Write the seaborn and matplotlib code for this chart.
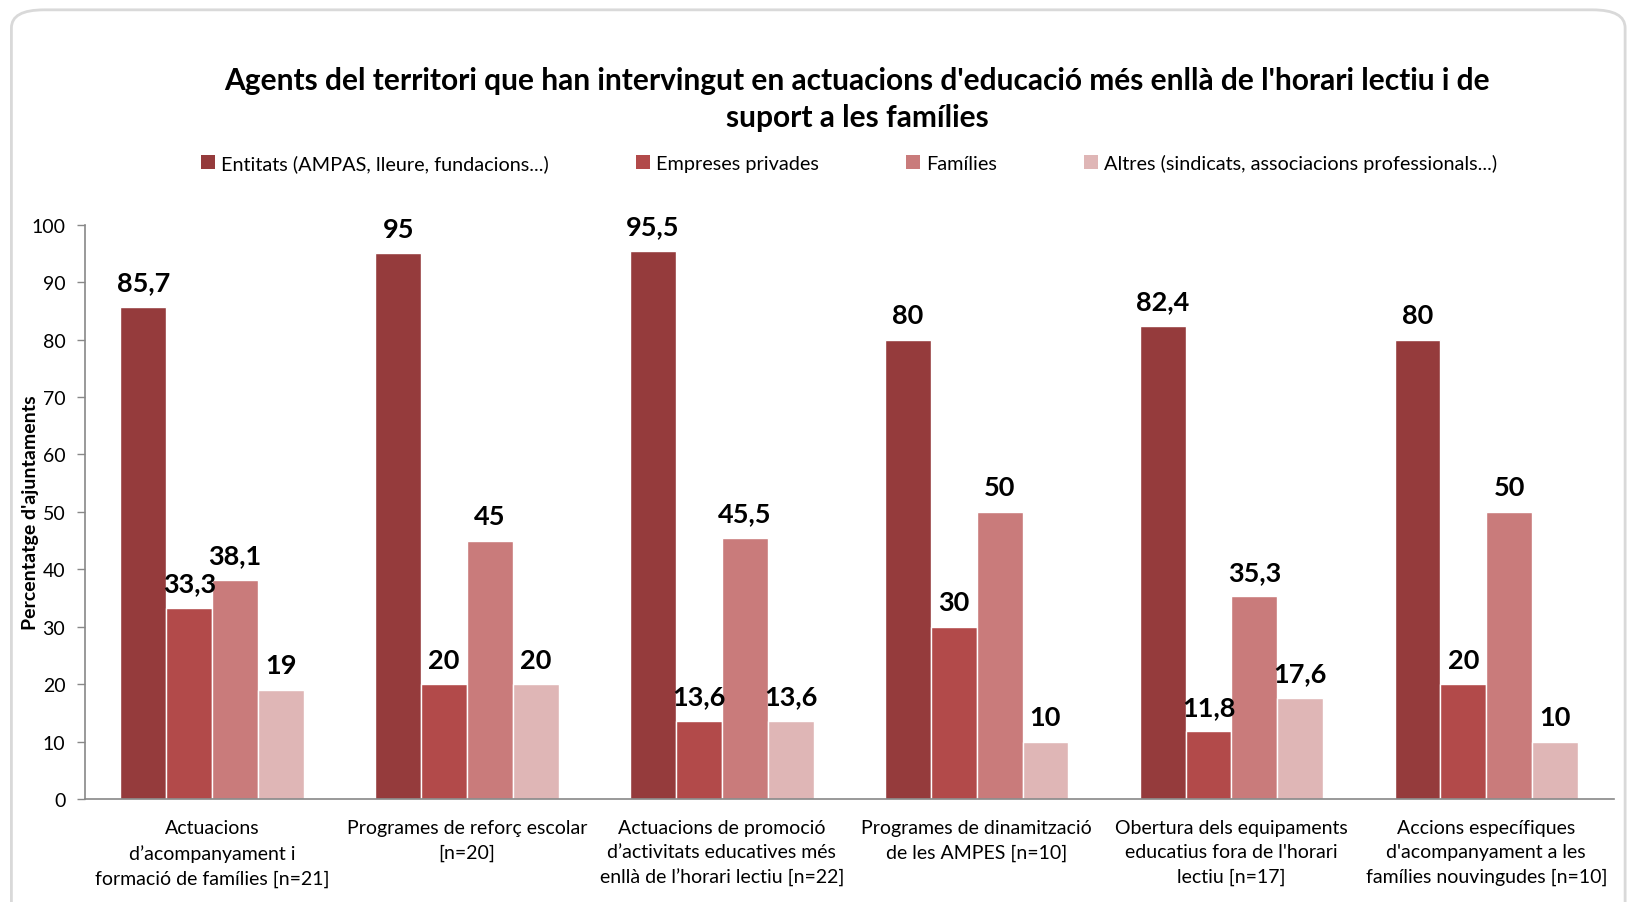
import pandas as pd
import matplotlib.pyplot as plt
import seaborn as sns
from matplotlib.patches import FancyBboxPatch, Patch

# Data
categories = [
    "Actuacions\nd\u2019acompanyament i\nformació de famílies [n=21]",
    "Programes de reforç escolar\n[n=20]",
    "Actuacions de promoció\nd\u2019activitats educatives més\nenllà de l\u2019horari lectiu [n=22]",
    "Programes de dinamització\nde les AMPES [n=10]",
    "Obertura dels equipaments\neducatius fora de l'horari\nlectiu [n=17]",
    "Accions específiques\nd'acompanyament a les\nfamílies nouvingudes [n=10]",
]
series = [
    "Entitats (AMPAS, lleure, fundacions...)",
    "Empreses privades",
    "Famílies",
    "Altres (sindicats, associacions professionals...)",
]
entitats = [85.7, 95, 95.5, 80, 82.4, 80]
empreses = [33.3, 20, 13.6, 30, 11.8, 20]
families = [38.1, 45, 45.5, 50, 35.3, 50]
altres = [19, 20, 13.6, 10, 17.6, 10]
colors = ["#953B3C", "#B24A4A", "#C97B7B", "#DFB6B6"]

rows = []
for name, vals in zip(series, [entitats, empreses, families, altres]):
    for cat, v in zip(categories, vals):
        rows.append({"cat": cat, "serie": name, "value": v})
df = pd.DataFrame(rows)

sns.set_style("white")
plt.rcParams["font.family"] = ["Lato", "DejaVu Sans"]
plt.rcParams["text.color"] = "black"
plt.rcParams["axes.labelcolor"] = "black"
plt.rcParams["xtick.color"] = "black"
plt.rcParams["ytick.color"] = "black"

fig = plt.figure(figsize=(16.3, 9.03), dpi=100)
ax = fig.add_axes([0.052, 0.114, 0.938, 0.636])

sns.barplot(data=df, x="cat", y="value", hue="serie", palette=colors,
            width=0.72, saturation=1, ax=ax, legend=False)

def fmt(v):
    return (f"{v:g}").replace(".", ",")

for cont in ax.containers:
    for bar in cont:
        h = bar.get_height()
        ax.text(bar.get_x() + bar.get_width() / 2, h + 2.2, fmt(h),
                ha="center", va="bottom", fontsize=19.5, fontweight="bold")

ax.set_ylim(0, 100)
ax.set_yticks(range(0, 101, 10))
ax.set_xlim(-0.5, len(categories) - 0.5)
ax.tick_params(axis="y", labelsize=14, length=6, width=1, color="#888888",
               labelcolor="black", direction="out", left=True, pad=8)
ax.tick_params(axis="x", labelsize=14, length=0, pad=14, labelcolor="black")
for lbl in ax.get_xticklabels():
    lbl.set_linespacing(1.55)
ax.set_xlabel("")
ax.set_ylabel("Percentatge d'ajuntaments", fontsize=14, fontweight="bold")
ax.yaxis.set_label_coords(-0.03, 0.5)
for s in ["top", "right"]:
    ax.spines[s].set_visible(False)
for s in ["left", "bottom"]:
    ax.spines[s].set_color("#888888")
    ax.spines[s].set_linewidth(1.2)

fig.text(0.526, 0.89,
         "Agents del territori que han intervingut en actuacions d'educació més enllà de l'horari lectiu i de\nsuport a les famílies",
         ha="center", va="center", fontsize=21.5, fontweight="bold",
         linespacing=1.4, color="black")

handles = [Patch(facecolor=c, edgecolor="none") for c in colors]
fig.legend(handles, series, loc="center", bbox_to_anchor=(0.521, 0.818),
           ncol=4, frameon=False, fontsize=14.3, handlelength=0.7,
           handleheight=0.7, handletextpad=0.3, columnspacing=4.4)

frame = FancyBboxPatch((0.007, -0.05), 0.99, 1.038,
                       boxstyle="round,pad=0,rounding_size=0.02",
                       transform=fig.transFigure, facecolor="none",
                       edgecolor="#D9D9D9", linewidth=2, clip_on=False)
fig.patches.append(frame)

fig.savefig("out.png", dpi=100)
